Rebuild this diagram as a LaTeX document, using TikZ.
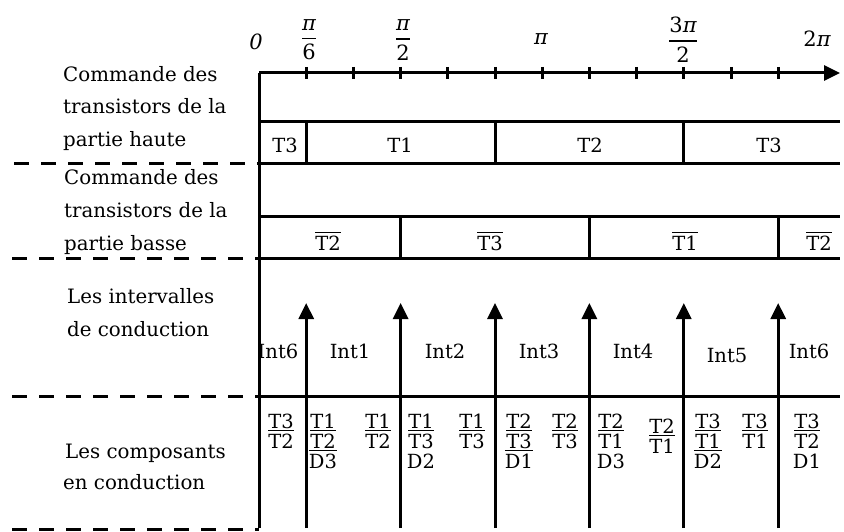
\documentclass[tikz,border=0pt]{standalone}
\usepackage{fontspec}
\setmainfont{DejaVu Serif}
\usetikzlibrary{arrows.meta}
\newcommand\ob[1]{\leavevmode\vbox{\hrule height 1.6pt\kern 2.2pt\hbox{#1}}}
\newcommand\pfrac[2]{\vbox{\halign{\hfil##\hfil\cr #1\cr\noalign{\kern7pt\hrule height1.8pt\kern5pt}#2\cr}}}
\newcommand\ppi{{\itshape π}}
\begin{document}
\begin{tikzpicture}[x=1pt,y=-1pt,
  thickline/.style={line width=3pt},
  sepline/.style={line width=3pt, dash pattern=on 15pt off 12pt},
  lab/.style={anchor=base west, inner sep=0pt, font=\fontsize{19.8}{22}\selectfont},
  txt/.style={anchor=base, inner sep=0pt, font=\fontsize{19.5}{22}\selectfont},
  mth/.style={inner sep=0pt, font=\fontsize{21}{22}\selectfont},
  tip/.style={-{Triangle[length=16pt,width=15pt]}},
]
\useasboundingbox (0,0) rectangle (844,532);

% axes
\coordinate (O) at (259,73);
\coordinate (E) at (840,73);
\coordinate (B) at (259,528);
\draw[thickline, tip] (O) -- (E);
\draw[thickline] (O) -- (B);
\foreach \k in {1,...,11}
  \draw[thickline] ({259+47.2*\k},67) -- ({259+47.2*\k},79);

% axis labels
\node[mth] (l0) at (256,42) {\textit{0}};
\node[mth] (l1) at (309,40) {\pfrac{\ppi}{6}};
\node[mth] (l2) at (403,40) {\pfrac{\ppi}{2}};
\node[mth] (l3) at (541,39) {\ppi};
\node[mth] (l4) at (683,40) {\pfrac{3\ppi}{2}};
\node[mth] (l5) at (817,39) {2\ppi};

% upper transistors
\draw[thickline] (259,122) -- (840,122);
\draw[thickline] (259,164) -- (840,164);
\draw[sepline] (14,164) -- (259,164);
\foreach \k in {1,5,9}
  \draw[thickline] ({259+47.2*\k},122) -- ({259+47.2*\k},164);
\node[txt] (h1) at (285,153) {T3};
\node[txt] (h2) at (400,153) {T1};
\node[txt] (h3) at (590,153) {T2};
\node[txt] (h4) at (769,153) {T3};

% lower transistors
\draw[thickline] (259,217) -- (840,217);
\draw[thickline] (259,258) -- (840,258);
\draw[sepline] (12,258) -- (259,258);
\foreach \k in {3,7,11}
  \draw[thickline] ({259+47.2*\k},217) -- ({259+47.2*\k},258);
\node[txt] (b1) at (328,250) {\ob{T2}};
\node[txt] (b2) at (490,250) {\ob{T3}};
\node[txt] (b3) at (685,250) {\ob{T1}};
\node[txt] (b4) at (819,250) {\ob{T2}};

% intervals
\draw[thickline] (259,396) -- (840,396);
\draw[sepline] (12,396) -- (259,396);
\draw[sepline] (12,529.5) -- (259,529.5);
\foreach \k in {1,3,5,7,9,11} {
  \coordinate (s\k) at ({259+47.2*\k},528);
  \coordinate (t\k) at ({259+47.2*\k},303);
  \draw[thickline, tip] (s\k) -- (t\k);
}
\foreach \x/\y/\t [count=\i] in {278/358/Int6, 350/358/Int1, 445/358/Int2, 539/358/Int3, 633/358/Int4, 727/362/Int5, 809/358/Int6}
  \node[txt] (int\i) at (\x,\y) {\t};

% components
\foreach \x/\y/\t [count=\i] in {
  281/428/T3, 281/448/{\ob{T2}},
  323/428/T1, 323/448/{\ob{T2}}, 323/468/{\ob{D3}},
  378/428/T1, 378/448/{\ob{T2}},
  421/428/T1, 421/448/{\ob{T3}}, 421/468/D2,
  472/428/T1, 472/448/{\ob{T3}},
  519/428/T2, 519/448/{\ob{T3}}, 519/468/{\ob{D1}},
  565/428/T2, 565/448/{\ob{T3}},
  611/428/T2, 611/448/{\ob{T1}}, 611/468/D3,
  662/433/T2, 662/453/{\ob{T1}},
  708/428/T3, 708/448/{\ob{T1}}, 708/468/{\ob{D2}},
  755/428/T3, 755/448/{\ob{T1}},
  807/428/T3, 807/448/{\ob{T2}}, 807/468/D1}
  \node[txt] (c\i) at (\x,\y) {\t};

% left labels
\node[lab] (a1) at (63,82) {Commande des};
\node[lab] (a2) at (63,114) {transistors de la};
\node[lab] (a3) at (63,147) {partie haute};
\node[lab] (a4) at (64,185) {Commande des};
\node[lab] (a5) at (64,218) {transistors de la};
\node[lab] (a6) at (64,250) {partie basse};
\node[lab] (a7) at (67,303) {Les intervalles};
\node[lab] (a8) at (67,336) {de conduction};
\node[lab] (a9) at (65,458) {Les composants};
\node[lab] (a10) at (63,489) {en conduction};
\end{tikzpicture}
\end{document}
